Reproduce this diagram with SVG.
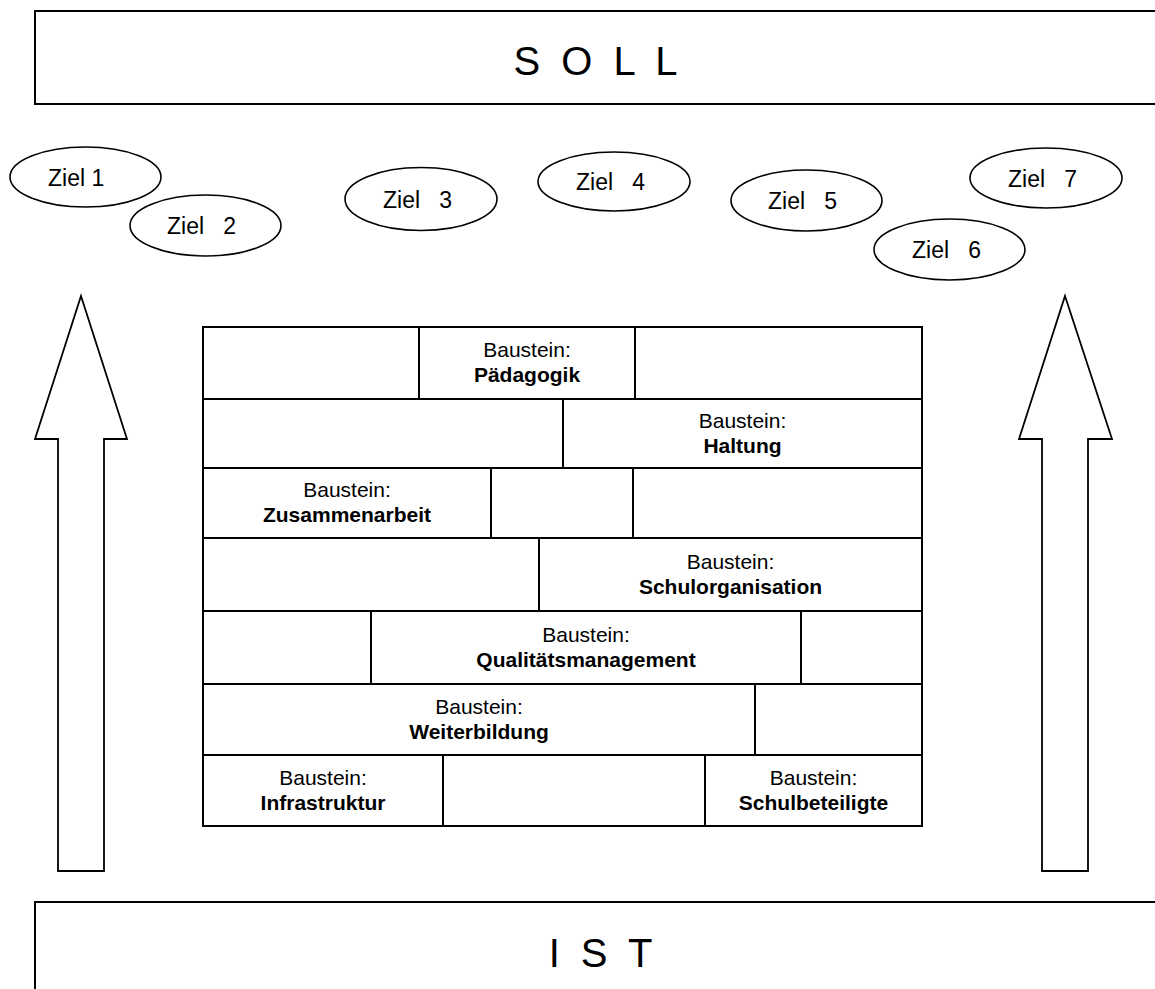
<svg xmlns="http://www.w3.org/2000/svg" width="1155" height="989" viewBox="0 0 1155 989">
<style>
.frame{fill:#fff;stroke:#000;stroke-width:2}
.ziel{fill:#fff;stroke:#000;stroke-width:1.6}
.arrow{fill:#fff;stroke:#000;stroke-width:1.8;stroke-linejoin:miter}
.brick{fill:#fff;stroke:#000;stroke-width:2}
.big{font-family:"Liberation Sans",Arial,sans-serif;font-size:40px;fill:#000;letter-spacing:5px}
.zt{font-family:"Liberation Sans",Arial,sans-serif;font-size:23px;fill:#000;white-space:pre}
.bl{font-family:"Liberation Sans",Arial,sans-serif;font-size:21px;fill:#000;text-anchor:middle}
.bb{font-family:"Liberation Sans",Arial,sans-serif;font-size:21px;font-weight:bold;fill:#000;text-anchor:middle}
</style>
<rect width="1155" height="989" fill="#fff"/>
<g id="soll">
<rect class="frame" x="35" y="11" width="1140" height="93"/>
<text class="big" x="598" y="75" text-anchor="middle">S O L L</text>
</g>
<g id="ist">
<rect class="frame" x="35" y="902" width="1140" height="100"/>
<text class="big" x="603" y="967" text-anchor="middle">I S T</text>
</g>
<g id="ziel1"><ellipse class="ziel" cx="85.5" cy="177" rx="75.5" ry="30"/><text class="zt" x="48" y="186" xml:space="preserve">Ziel 1</text></g>
<g id="ziel2"><ellipse class="ziel" cx="205.5" cy="225.5" rx="75.5" ry="30.5"/><text class="zt" x="167" y="234" xml:space="preserve">Ziel   2</text></g>
<g id="ziel3"><ellipse class="ziel" cx="421" cy="199" rx="76" ry="31.5"/><text class="zt" x="383" y="207.5" xml:space="preserve">Ziel   3</text></g>
<g id="ziel4"><ellipse class="ziel" cx="614" cy="181.5" rx="76" ry="29.5"/><text class="zt" x="576" y="190" xml:space="preserve">Ziel   4</text></g>
<g id="ziel5"><ellipse class="ziel" cx="806.5" cy="200.5" rx="75.5" ry="30.5"/><text class="zt" x="768" y="209" xml:space="preserve">Ziel   5</text></g>
<g id="ziel6"><ellipse class="ziel" cx="949.5" cy="249.5" rx="75.5" ry="30.5"/><text class="zt" x="912" y="258" xml:space="preserve">Ziel   6</text></g>
<g id="ziel7"><ellipse class="ziel" cx="1046" cy="178" rx="76" ry="30"/><text class="zt" x="1008" y="186.5" xml:space="preserve">Ziel   7</text></g>
<g id="arrow-left"><polygon class="arrow" points="81,296 127,439 104,439 104,871 58,871 58,439 35,439"/></g>
<g id="arrow-right"><polygon class="arrow" points="1065,296 1112,439 1088,439 1088,871 1042,871 1042,439 1019,439"/></g>
<g id="wall">
<g id="r1a"><rect class="brick" x="203" y="327" width="216" height="72"/></g>
<g id="paedagogik"><rect class="brick" x="419" y="327" width="216" height="72"/><text class="bl" x="527" y="357">Baustein:</text><text class="bb" x="527" y="382">Pädagogik</text></g>
<g id="r1c"><rect class="brick" x="635" y="327" width="287" height="72"/></g>
<g id="r2a"><rect class="brick" x="203" y="399" width="360" height="69"/></g>
<g id="haltung"><rect class="brick" x="563" y="399" width="359" height="69"/><text class="bl" x="742.5" y="427.5">Baustein:</text><text class="bb" x="742.5" y="452.5">Haltung</text></g>
<g id="zusammenarbeit"><rect class="brick" x="203" y="468" width="288" height="70"/><text class="bl" x="347" y="497">Baustein:</text><text class="bb" x="347" y="522">Zusammenarbeit</text></g>
<g id="r3b"><rect class="brick" x="491" y="468" width="142" height="70"/></g>
<g id="r3c"><rect class="brick" x="633" y="468" width="289" height="70"/></g>
<g id="r4a"><rect class="brick" x="203" y="538" width="336" height="73"/></g>
<g id="schulorganisation"><rect class="brick" x="539" y="538" width="383" height="73"/><text class="bl" x="730.5" y="568.5">Baustein:</text><text class="bb" x="730.5" y="593.5">Schulorganisation</text></g>
<g id="r5a"><rect class="brick" x="203" y="611" width="168" height="73"/></g>
<g id="qualitaetsmanagement"><rect class="brick" x="371" y="611" width="430" height="73"/><text class="bl" x="586" y="641.5">Baustein:</text><text class="bb" x="586" y="666.5">Qualitätsmanagement</text></g>
<g id="r5c"><rect class="brick" x="801" y="611" width="121" height="73"/></g>
<g id="weiterbildung"><rect class="brick" x="203" y="684" width="552" height="71"/><text class="bl" x="479" y="713.5">Baustein:</text><text class="bb" x="479" y="738.5">Weiterbildung</text></g>
<g id="r6b"><rect class="brick" x="755" y="684" width="167" height="71"/></g>
<g id="infrastruktur"><rect class="brick" x="203" y="755" width="240" height="71"/><text class="bl" x="323" y="784.5">Baustein:</text><text class="bb" x="323" y="809.5">Infrastruktur</text></g>
<g id="r7b"><rect class="brick" x="443" y="755" width="262" height="71"/></g>
<g id="schulbeteiligte"><rect class="brick" x="705" y="755" width="217" height="71"/><text class="bl" x="813.5" y="784.5">Baustein:</text><text class="bb" x="813.5" y="809.5">Schulbeteiligte</text></g>
</g>
</svg>
